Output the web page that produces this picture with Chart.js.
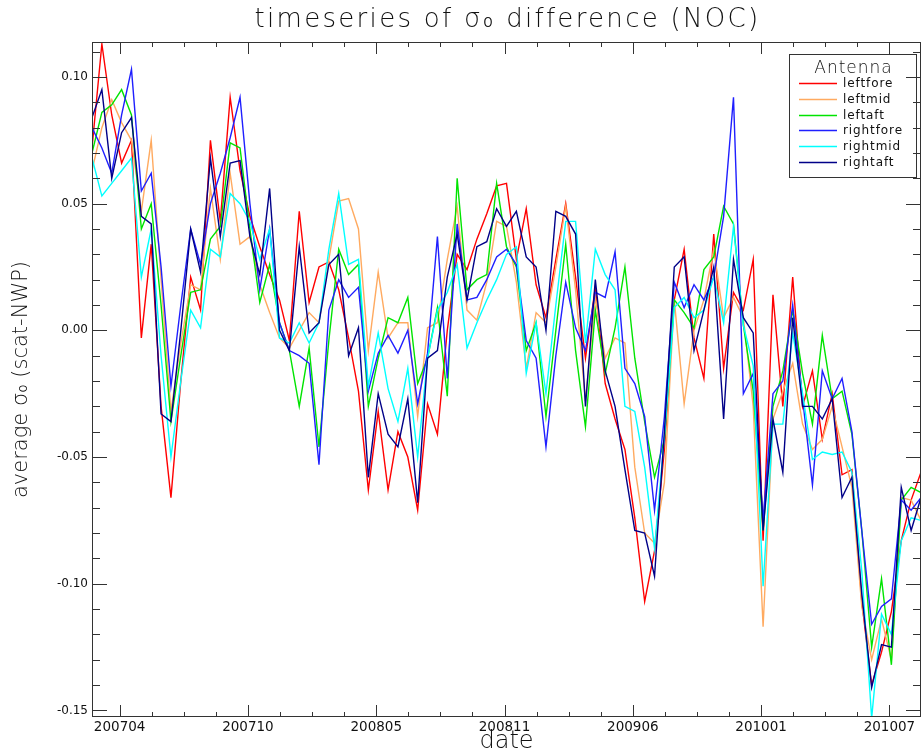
<!DOCTYPE html>
<html>
<head>
<meta charset="utf-8">
<script src="https://cdn.jsdelivr.net/npm/chart.js@4.4.0/dist/chart.umd.min.js"></script>
<style>
html,body{margin:0;padding:0;background:#ffffff;}
#wrap{width:922px;height:751px;position:relative;}
</style>
</head>
<body>
<div id="wrap"><canvas id="c" width="922" height="751"></canvas></div>
<script>
// ---- data (semi-monthly samples) ----
const dates = [
 '2007-03-07','2007-03-22','2007-04-07','2007-04-22','2007-05-07','2007-05-22','2007-06-07','2007-06-22','2007-07-07','2007-07-22',
 '2007-08-07','2007-08-22','2007-09-07','2007-09-22','2007-10-07','2007-10-22','2007-11-07','2007-11-22','2007-12-07','2007-12-22',
 '2008-01-07','2008-01-22','2008-02-07','2008-02-22','2008-03-07','2008-03-22','2008-04-07','2008-04-22','2008-05-07','2008-05-22',
 '2008-06-07','2008-06-22','2008-07-07','2008-07-22','2008-08-07','2008-08-22','2008-09-07','2008-09-22','2008-10-07','2008-10-22',
 '2008-11-07','2008-11-22','2008-12-07','2008-12-22','2009-01-07','2009-01-22','2009-02-07','2009-02-22','2009-03-07','2009-03-22',
 '2009-04-07','2009-04-22','2009-05-07','2009-05-22','2009-06-07','2009-06-22','2009-07-07','2009-07-22','2009-08-07','2009-08-22',
 '2009-09-07','2009-09-22','2009-10-07','2009-10-22','2009-11-07','2009-11-22','2009-12-07','2009-12-22','2010-01-07','2010-01-22',
 '2010-02-07','2010-02-22','2010-03-07','2010-03-22','2010-04-07','2010-04-22','2010-05-07','2010-05-22','2010-06-07','2010-06-22',
 '2010-07-07','2010-07-22','2010-08-07','2010-08-22','2010-09-07'
];

const leftfore = [
 0.072,0.113,0.085,0.066,0.075,-0.003,0.034,-0.03,-0.066,-0.02,
 0.021,0.008,0.075,0.043,0.092,0.063,0.045,0.033,0.022,0.012,
 -0.004,0.047,0.011,0.025,0.027,0.016,-0.003,-0.024,-0.063,-0.032,
 -0.063,-0.04,-0.05,-0.071,-0.029,-0.041,0.0,0.03,0.024,0.036,
 0.046,0.057,0.058,0.028,0.048,0.018,0.005,0.028,0.05,0.021,
 -0.011,0.017,-0.021,-0.035,-0.047,-0.074,-0.107,-0.087,-0.047,0.012,
 0.032,-0.003,-0.019,0.038,-0.015,0.015,0.008,0.028,-0.083,0.014,
 -0.03,0.021,-0.03,-0.016,-0.043,-0.025,-0.057,-0.055,-0.107,-0.14,
 -0.127,-0.111,-0.083,-0.067,-0.056
];
const leftmid = [
 0.063,0.08,0.091,0.082,0.075,0.047,0.075,0.02,-0.032,-0.005,
 0.018,0.016,0.056,0.028,0.062,0.034,0.037,0.018,0.007,-0.003,
 -0.007,0.0,0.007,0.003,0.028,0.051,0.052,0.04,-0.008,0.023,
 -0.003,0.003,0.003,-0.034,0.001,0.003,0.028,0.049,0.008,0.004,
 0.019,0.043,0.041,0.019,-0.015,0.007,0.003,0.025,0.049,0.016,
 -0.028,0.013,-0.011,-0.003,-0.005,-0.054,-0.08,-0.084,-0.06,0.012,
 -0.029,0.0,0.012,0.032,0.005,0.013,0.005,-0.03,-0.117,-0.035,
 -0.024,-0.013,-0.037,-0.047,-0.043,-0.03,-0.046,-0.062,-0.109,-0.13,
 -0.114,-0.13,-0.066,-0.067,-0.075
];
const leftaft = [
 0.07,0.086,0.089,0.095,0.085,0.04,0.05,0.01,-0.036,-0.01,
 0.015,0.016,0.036,0.041,0.074,0.072,0.04,0.011,0.026,0.003,
 -0.008,-0.03,-0.007,-0.046,-0.004,0.032,0.022,0.026,-0.03,-0.011,
 0.005,0.003,0.013,-0.021,-0.011,0.009,-0.026,0.06,0.016,0.02,
 0.022,0.058,0.033,0.025,-0.008,0.003,-0.034,0.0,0.034,-0.008,
 -0.038,0.008,-0.017,0.001,0.025,-0.011,-0.036,-0.058,-0.043,0.012,
 0.007,0.001,0.024,0.029,0.049,0.042,0.002,-0.024,-0.079,-0.03,
 -0.016,0.008,-0.017,-0.037,-0.002,-0.027,-0.024,-0.041,-0.079,-0.125,
 -0.098,-0.132,-0.067,-0.062,-0.064
];
const rightfore = [
 0.08,0.072,0.062,0.085,0.103,0.055,0.062,0.025,-0.022,0.01,
 0.04,0.026,0.05,0.062,0.076,0.092,0.05,0.016,0.04,0.003,
 -0.008,-0.01,-0.013,-0.053,0.008,0.02,0.013,0.017,-0.024,-0.009,
 -0.002,-0.009,0.0,-0.029,-0.009,0.037,-0.019,0.042,0.012,0.013,
 0.02,0.029,0.032,0.026,-0.004,-0.011,-0.046,-0.01,0.019,0.001,
 -0.008,0.015,0.013,0.031,-0.015,-0.021,-0.034,-0.071,-0.034,0.019,
 0.009,0.018,0.012,0.021,0.045,0.092,-0.025,-0.017,-0.075,-0.025,
 -0.02,0.01,-0.027,-0.061,-0.016,-0.027,-0.019,-0.04,-0.079,-0.116,
 -0.109,-0.106,-0.067,-0.071,-0.066
];
const rightmid = [
 0.068,0.053,0.058,0.063,0.068,0.021,0.04,-0.01,-0.05,-0.02,
 0.008,0.001,0.032,0.029,0.054,0.05,0.043,0.028,0.04,-0.003,
 -0.005,0.003,-0.005,0.003,0.032,0.054,0.026,0.028,-0.022,-0.001,
 -0.023,-0.036,-0.015,-0.05,-0.011,0.008,0.015,0.026,-0.007,0.003,
 0.012,0.02,0.03,0.033,-0.017,0.003,-0.025,0.01,0.043,0.043,
 -0.005,0.032,0.022,0.016,-0.03,-0.032,-0.054,-0.086,-0.042,0.009,
 0.013,0.005,0.008,0.021,0.003,0.041,0.002,-0.014,-0.101,-0.037,
 -0.037,-0.001,-0.025,-0.051,-0.048,-0.049,-0.048,-0.056,-0.095,-0.153,
 -0.112,-0.12,-0.083,-0.074,-0.075
];
const rightaft = [
 0.084,0.095,0.06,0.078,0.084,0.045,0.042,-0.033,-0.036,0.0,
 0.04,0.023,0.068,0.037,0.066,0.067,0.037,0.022,0.056,0.0,
 -0.008,0.033,-0.001,0.003,0.026,0.03,-0.01,0.001,-0.058,-0.025,
 -0.041,-0.046,-0.027,-0.068,-0.011,-0.008,0.021,0.038,0.012,0.033,
 0.035,0.048,0.041,0.047,0.029,0.025,0.0,0.047,0.045,0.038,
 -0.03,0.02,-0.016,-0.03,-0.055,-0.079,-0.08,-0.097,-0.04,0.025,
 0.029,-0.008,0.008,0.025,-0.035,0.028,0.005,-0.001,-0.079,-0.035,
 -0.056,0.005,-0.03,-0.03,-0.035,-0.027,-0.066,-0.058,-0.104,-0.141,
 -0.124,-0.125,-0.062,-0.079,-0.066
];

const seriesNames = ['leftfore','leftmid','leftaft','rightfore','rightmid','rightaft'];
const seriesValues = [leftfore, leftmid, leftaft, rightfore, rightmid, rightaft];

// x tick labels and their positions (in sample-index units)
const xTickLabels = ['200704','200710','200805','200811','200906','201001','201007'];
const xTickIndex  = [2.8, 15.8, 28.8, 41.8, 54.8, 67.8, 80.8];
const yTickValues = [-0.15,-0.10,-0.05,0.00,0.05,0.10];

const chartTitle = 'timeseries of σ₀ difference (NOC)';
const legendTitle = 'Antenna';

// ---- styles ----
const seriesColors = ['#ff0000','#ffaa60','#00e400','#1f1fff','#00ffff','#000088'];
const FONT = "'DejaVu Sans', 'Liberation Sans', sans-serif";
const INK = '#111111';

const datasets = seriesNames.map((name, k) => ({
  label: name,
  data: seriesValues[k].map((v, i) => ({x: i, y: v})),
  borderColor: seriesColors[k],
  backgroundColor: seriesColors[k],
  borderWidth: 1.4,
  pointRadius: 0,
  tension: 0,
  fill: false,
  order: seriesNames.length - k
}));

const framePlugin = {
  id: 'frame',
  afterDraw(chart) {
    const {ctx, chartArea: a, scales: {x, y}} = chart;
    ctx.save();
    ctx.strokeStyle = '#333333';
    ctx.lineWidth = 1;
    ctx.strokeRect(Math.round(a.left) + 0.5, Math.round(a.top) + 0.5,
                   Math.round(a.right - a.left) - 1, Math.round(a.bottom - a.top) - 1);
    ctx.beginPath();
    // x ticks (major + 3 minor between)
    const step = (xTickIndex[1] - xTickIndex[0]) / 4;
    for (let v = xTickIndex[0] - 4 * step; v <= x.max + 1e-9; v += step) {
      if (v < x.min - 1e-9) continue;
      const k = Math.round((v - xTickIndex[0]) / step);
      const major = ((k % 4) + 4) % 4 === 0;
      const len = major ? 12 : 5;
      const px = Math.round(x.getPixelForValue(v)) + 0.5;
      ctx.moveTo(px, a.bottom); ctx.lineTo(px, a.bottom - len);
      ctx.moveTo(px, a.top); ctx.lineTo(px, a.top + len);
    }
    // y ticks every 0.01, major every 0.05
    for (let k = -15; k <= 11; k++) {
      const v = k / 100;
      if (v < y.min || v > y.max) continue;
      const major = k % 5 === 0;
      const len = major ? 15 : 8;
      const py = Math.round(y.getPixelForValue(v)) + 0.5;
      ctx.moveTo(a.left, py); ctx.lineTo(a.left + len, py);
      ctx.moveTo(a.right, py); ctx.lineTo(a.right - len, py);
    }
    ctx.stroke();

    // main title
    ctx.fillStyle = INK;
    ctx.textAlign = 'center';
    ctx.textBaseline = 'middle';
    ctx.font = '200 26px ' + FONT;
    if ('letterSpacing' in ctx) ctx.letterSpacing = '2.3px';
    ctx.fillText(chartTitle, (a.left + a.right) / 2 + 1, 20);

    // legend box
    const bw = 127, bh = 123;
    const bx = Math.round(a.right - 5 - bw), by = Math.round(a.top + 12);
    ctx.strokeStyle = '#333333';
    ctx.lineWidth = 1;
    ctx.strokeRect(bx + 0.5, by + 0.5, bw, bh);
    ctx.font = '300 17px ' + FONT;
    if ('letterSpacing' in ctx) ctx.letterSpacing = '1px';
    ctx.fillText(legendTitle, bx + bw / 2 + 1, by + 15);
    ctx.font = '12px ' + FONT;
    if ('letterSpacing' in ctx) ctx.letterSpacing = '0.9px';
    ctx.textAlign = 'left';
    seriesNames.forEach((name, k) => {
      const ly = Math.round(by + 29 + k * 15.8) + 0.5;
      ctx.strokeStyle = seriesColors[k];
      ctx.lineWidth = 1.4;
      ctx.beginPath();
      ctx.moveTo(bx + 10, ly); ctx.lineTo(bx + 48, ly);
      ctx.stroke();
      ctx.fillStyle = INK;
      ctx.fillText(name, bx + 54, ly);
    });
    if ('letterSpacing' in ctx) ctx.letterSpacing = '0px';
    ctx.restore();
  }
};

new Chart(document.getElementById('c'), {
  type: 'line',
  data: { datasets },
  plugins: [framePlugin],
  options: {
    responsive: false,
    devicePixelRatio: 1,
    animation: false,
    layout: { padding: { left: 0, right: 1, top: 42, bottom: 0 } },
    plugins: {
      legend: { display: false },
      tooltip: { enabled: false },
      title: { display: false }
    },
    scales: {
      x: {
        type: 'linear',
        min: 0,
        max: dates.length - 1,
        afterBuildTicks: s => { s.ticks = xTickIndex.map(v => ({ value: v })); },
        afterFit: s => { s.height = 34; },
        grid: { display: false, drawTicks: false },
        border: { display: false },
        ticks: {
          autoSkip: false, maxRotation: 0, padding: 2,
          color: INK, font: { family: FONT, size: 13.5 },
          callback: (v, i) => xTickLabels[i]
        },
        title: {
          display: true, text: 'date', color: INK,
          font: { family: FONT, size: 24, weight: '300', lineHeight: 0.75 },
          padding: { top: 0, bottom: 0 }
        }
      },
      y: {
        type: 'linear',
        min: -0.1526,
        max: 0.1138,
        afterBuildTicks: s => { s.ticks = yTickValues.map(v => ({ value: v })); },
        afterFit: s => { s.width = 92; },
        grid: { display: false, drawTicks: false },
        border: { display: false },
        ticks: {
          padding: 4, color: INK, font: { family: FONT, size: 12 },
          callback: v => v.toFixed(2)
        },
        title: {
          display: true, text: 'average σ₀ (scat-NWP)', color: INK,
          font: { family: FONT, size: 21, weight: '300', lineHeight: 1.2 },
          padding: { top: 9, bottom: 0 }
        }
      }
    }
  }
});
</script>
</body>
</html>
